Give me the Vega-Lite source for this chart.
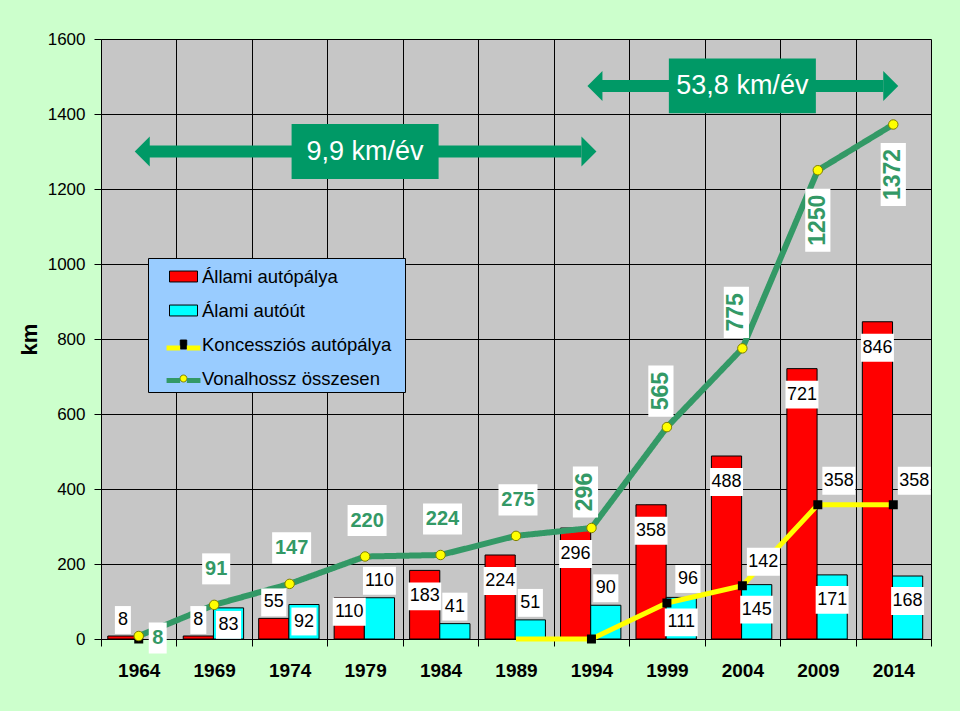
{
  "$schema": "https://vega.github.io/schema/vega-lite/v6.json",
  "width": 830,
  "height": 600,
  "autosize": {"type": "none"},
  "padding": {"left": 101, "top": 39, "right": 29, "bottom": 72},
  "background": "#ccffcc",
  "config": {
    "view": {"fill": "#c6c6c6", "stroke": null},
    "font": "Liberation Sans"
  },
  "datasets": {
    "bars": [
      {"year": 1964, "series": "Állami autópálya", "km": 8},
      {"year": 1969, "series": "Állami autópálya", "km": 8},
      {"year": 1974, "series": "Állami autópálya", "km": 55},
      {"year": 1979, "series": "Állami autópálya", "km": 110},
      {"year": 1984, "series": "Állami autópálya", "km": 183},
      {"year": 1989, "series": "Állami autópálya", "km": 224},
      {"year": 1994, "series": "Állami autópálya", "km": 296},
      {"year": 1999, "series": "Állami autópálya", "km": 358},
      {"year": 2004, "series": "Állami autópálya", "km": 488},
      {"year": 2009, "series": "Állami autópálya", "km": 721},
      {"year": 2014, "series": "Állami autópálya", "km": 846},
      {"year": 1969, "series": "Álami autóút", "km": 83},
      {"year": 1974, "series": "Álami autóút", "km": 92},
      {"year": 1979, "series": "Álami autóút", "km": 110},
      {"year": 1984, "series": "Álami autóút", "km": 41},
      {"year": 1989, "series": "Álami autóút", "km": 51},
      {"year": 1994, "series": "Álami autóút", "km": 90},
      {"year": 1999, "series": "Álami autóút", "km": 111},
      {"year": 2004, "series": "Álami autóút", "km": 145},
      {"year": 2009, "series": "Álami autóút", "km": 171},
      {"year": 2014, "series": "Álami autóút", "km": 168}
    ],
    "lines": [
      {"year": 1964, "Koncessziós autópálya": 0, "Vonalhossz összesen": 8},
      {"year": 1969, "Koncessziós autópálya": null, "Vonalhossz összesen": 91},
      {"year": 1974, "Koncessziós autópálya": null, "Vonalhossz összesen": 147},
      {"year": 1979, "Koncessziós autópálya": null, "Vonalhossz összesen": 220},
      {"year": 1984, "Koncessziós autópálya": null, "Vonalhossz összesen": 224},
      {"year": 1989, "Koncessziós autópálya": 0, "Vonalhossz összesen": 275},
      {"year": 1994, "Koncessziós autópálya": 0, "Vonalhossz összesen": 296},
      {"year": 1999, "Koncessziós autópálya": 96, "Vonalhossz összesen": 565},
      {"year": 2004, "Koncessziós autópálya": 142, "Vonalhossz összesen": 775},
      {"year": 2009, "Koncessziós autópálya": 358, "Vonalhossz összesen": 1250},
      {"year": 2014, "Koncessziós autópálya": 358, "Vonalhossz összesen": 1372}
    ],
    "arrows": [
      {"from": 1964, "to": 1994, "mid": 1979, "km": 1300, "rate": "9,9 km/év"},
      {"from": 1994, "to": 2014, "mid": 2004, "km": 1475, "rate": "53,8 km/év"}
    ]
  },
  "layer": [
    {
      "data": {"name": "bars"},
      "mark": {"type": "bar", "stroke": "#000000", "strokeWidth": 1},
      "encoding": {
        "x": {
          "field": "year", "type": "ordinal", "title": null,
          "scale": {"paddingInner": 0, "paddingOuter": 0},
          "axis": {
            "title": null, "tickBand": "extent", "grid": true, "gridColor": "#000000", "gridWidth": 1, "gridOpacity": 1,
            "domainColor": "#000000", "domainWidth": 1, "tickColor": "#000000", "tickSize": 7, "tickWidth": 1,
            "labelFontSize": 19, "labelFontWeight": "bold", "labelColor": "#000000", "labelPadding": 15, "labelAngle": 0
          }
        },
        "xOffset": {
          "field": "series", "type": "nominal",
          "scale": {"domain": ["Állami autópálya", "Álami autóút"], "paddingInner": 0, "paddingOuter": 0.25, "align": 0.45}
        },
        "y": {
          "field": "km", "type": "quantitative", "title": "km",
          "scale": {"domain": [0, 1600], "nice": false},
          "axis": {
            "title": "km", "titleFontSize": 22, "titleFontWeight": "bold", "titleColor": "#000000", "titlePadding": 6,
            "values": [0, 200, 400, 600, 800, 1000, 1200, 1400, 1600], "format": "d",
            "grid": true, "gridColor": "#000000", "gridWidth": 1, "gridOpacity": 1,
            "domainColor": "#000000", "tickColor": "#000000", "tickSize": 7,
            "labelFontSize": 17, "labelColor": "#000000", "labelPadding": 9
          }
        },
        "fill": {
          "field": "series", "type": "nominal",
          "scale": {
            "domain": ["Állami autópálya", "Álami autóút", "Koncessziós autópálya", "Vonalhossz összesen"],
            "range": ["#ff0000", "#00ffff", "#000000", "#ffff00"]
          },
          "legend": {"orient": "none", "legendX": 47, "legendY": 219, "title": " ", "titleOrient": "right", "titlePadding": 10, "titleFontSize": 1, "fillColor": "#99ccff", "strokeColor": "#000000", "padding": 4, "labelFontSize": 18.5, "labelColor": "#000000", "labelLimit": 400, "labelOffset": 4, "symbolSize": 784, "symbolOffset": 17, "rowPadding": 10, "symbolOpacity": 1, "symbolStrokeWidth": 1}
        }
      }
    },
    {
      "data": {"name": "lines"},
      "transform": [
        {"fold": ["Koncessziós autópálya", "Vonalhossz összesen"], "as": ["line", "value"]},
        {"filter": "datum.value != null"}
      ],
      "mark": {"type": "point", "filled": true, "opacity": 0},
      "encoding": {
        "x": {"field": "year", "type": "ordinal", "title": null},
        "y": {"field": "value", "type": "quantitative", "title": "km"},
        "shape": {
          "field": "line", "type": "nominal",
          "scale": {
            "domain": ["Állami autópálya", "Álami autóút", "Koncessziós autópálya", "Vonalhossz összesen"],
            "range": ["M-1,-0.39H1V0.39H-1Z", "M-1,-0.39H1V0.39H-1Z", "M-0.23,-0.32H0.23V0.32H-0.23Z", "M-0.25,0A0.25,0.25 0 1,1 0.25,0A0.25,0.25 0 1,1 -0.25,0Z"]
          },
          "legend": {"orient": "none", "legendX": 47, "legendY": 219, "title": " ", "titleOrient": "right", "titlePadding": 10, "titleFontSize": 1, "fillColor": "#99ccff", "strokeColor": "#000000", "padding": 4, "labelFontSize": 18.5, "labelColor": "#000000", "labelLimit": 400, "labelOffset": 4, "symbolSize": 784, "symbolOffset": 17, "rowPadding": 10, "symbolOpacity": 1, "symbolStrokeWidth": 1}
        },
        "stroke": {
          "field": "line", "type": "nominal",
          "scale": {
            "domain": ["Állami autópálya", "Álami autóút", "Koncessziós autópálya", "Vonalhossz összesen"],
            "range": ["#000000", "#000000", "#000000", "#808000"]
          },
          "legend": {"orient": "none", "legendX": 47, "legendY": 219, "title": " ", "titleOrient": "right", "titlePadding": 10, "titleFontSize": 1, "fillColor": "#99ccff", "strokeColor": "#000000", "padding": 4, "labelFontSize": 18.5, "labelColor": "#000000", "labelLimit": 400, "labelOffset": 4, "symbolSize": 784, "symbolOffset": 17, "rowPadding": 10, "symbolOpacity": 1, "symbolStrokeWidth": 1}
        }
      }
    },
    {
      "data": {"name": "arrows"},
      "layer": [
        {
          "mark": {"type": "rule", "color": "#009966", "strokeWidth": 12, "xOffset": 10, "x2Offset": -10},
          "encoding": {
            "x": {"field": "from", "type": "ordinal", "title": null},
            "x2": {"field": "to"},
            "y": {"field": "km", "type": "quantitative", "title": "km"}
          }
        },
        {
          "mark": {"type": "point", "shape": "M0,0L1,-1L1,1Z", "filled": true, "fill": "#009966", "opacity": 1, "strokeWidth": 0, "size": 900, "xOffset": -4},
          "encoding": {
            "x": {"field": "from", "type": "ordinal", "title": null},
            "y": {"field": "km", "type": "quantitative", "title": "km"}
          }
        },
        {
          "mark": {"type": "point", "shape": "M0,0L-1,-1L-1,1Z", "filled": true, "fill": "#009966", "opacity": 1, "strokeWidth": 0, "size": 900, "xOffset": 5},
          "encoding": {
            "x": {"field": "to", "type": "ordinal", "title": null},
            "y": {"field": "km", "type": "quantitative", "title": "km"}
          }
        },
        {
          "mark": {"type": "point", "shape": "M-1,-0.374H1V0.374H-1Z", "filled": true, "fill": "#009966", "opacity": 1, "strokeWidth": 0, "size": 21609},
          "encoding": {
            "x": {"field": "mid", "type": "ordinal", "title": null},
            "y": {"field": "km", "type": "quantitative", "title": "km"}
          }
        },
        {
          "mark": {"type": "text", "color": "#ffffff", "fontSize": 27, "align": "center", "baseline": "middle"},
          "encoding": {
            "x": {"field": "mid", "type": "ordinal", "title": null},
            "y": {"field": "km", "type": "quantitative", "title": "km"},
            "text": {"field": "rate", "type": "nominal"}
          }
        }
      ]
    },
    {
      "data": {"name": "lines"},
      "transform": [
        {"fold": ["Koncessziós autópálya"], "as": ["line", "value"]},
        {"filter": "datum.year >= 1989"}
      ],
      "mark": {"type": "line", "strokeWidth": 5},
      "encoding": {
        "x": {"field": "year", "type": "ordinal", "title": null},
        "y": {"field": "value", "type": "quantitative", "title": "km"},
        "color": {
          "field": "line", "type": "nominal",
          "scale": {"domain": ["Koncessziós autópálya"], "range": ["#ffff00"]},
          "legend": {"orient": "none", "legendX": 45, "legendY": 288.5, "title": null, "padding": 4, "labelFontSize": 1, "labelExpr": "''", "symbolSize": 784, "symbolOffset": 17, "symbolOpacity": 1, "symbolType": "M-1.21,0H-0.24M0.24,0H1.21M0,-1L0,-1M0,1L0,1", "symbolStrokeWidth": 5, "symbolFillColor": "transparent"}
        }
      }
    },
    {
      "data": {"name": "lines"},
      "transform": [
        {"fold": ["Vonalhossz összesen"], "as": ["line", "value"]}
      ],
      "mark": {"type": "line", "color": "#339966", "strokeWidth": 6},
      "encoding": {
        "x": {"field": "year", "type": "ordinal", "title": null},
        "y": {"field": "value", "type": "quantitative", "title": "km"},
        "strokeDash": {
          "field": "line", "type": "nominal",
          "scale": {"domain": ["Vonalhossz összesen"], "range": [[1, 0]]},
          "legend": {"orient": "none", "legendX": 45, "legendY": 321, "title": null, "padding": 4, "labelFontSize": 1, "labelExpr": "''", "symbolSize": 784, "symbolOffset": 17, "symbolOpacity": 1, "symbolType": "M-1.21,0H-0.24M0.24,0H1.21M0,-1L0,-1M0,1L0,1", "symbolStrokeWidth": 5, "symbolStrokeColor": "#339966", "symbolFillColor": "transparent"}
        }
      }
    },
    {
      "data": {"name": "lines"},
      "transform": [{"filter": "datum['Koncessziós autópálya'] != null && datum.year != 1989"}],
      "mark": {"type": "point", "shape": "square", "filled": true, "color": "#000000", "size": 81, "opacity": 1},
      "encoding": {
        "x": {"field": "year", "type": "ordinal", "title": null},
        "y": {"field": "Koncessziós autópálya", "type": "quantitative", "title": "km"}
      }
    },
    {
      "data": {"name": "lines"},
      "mark": {"type": "point", "shape": "circle", "filled": true, "fill": "#ffff00", "stroke": "#808000", "strokeWidth": 1, "size": 90, "opacity": 1},
      "encoding": {
        "x": {"field": "year", "type": "ordinal", "title": null},
        "y": {"field": "Vonalhossz összesen", "type": "quantitative", "title": "km"}
      }
    },
    {
      "data": {"name": "bars"},
      "transform": [{"filter": "datum.series === 'Állami autópálya' && datum.year <= 1974"}],
      "encoding": {
        "x": {"field": "year", "type": "ordinal", "title": null},
        "xOffset": {"field": "series", "type": "nominal"},
        "y": {"field": "km", "type": "quantitative", "title": "km"}
      },
      "layer": [
        {"mark": {"type": "point", "filled": true, "fill": "#ffffff", "opacity": 1, "strokeWidth": 0, "size": 1156, "yOffset": -16},
         "encoding": {"shape": {"condition": [{"test": "datum.km < 10", "value": "M-0.47,-0.82H0.47V0.82H-0.47Z"}, {"test": "datum.km < 100", "value": "M-0.74,-0.82H0.74V0.82H-0.74Z"}], "value": "M-0.97,-0.82H0.97V0.82H-0.97Z"}}},
        {"mark": {"type": "text", "yOffset": -16, "fontSize": 18, "color": "#000000", "align": "center", "baseline": "middle"},
         "encoding": {"text": {"field": "km", "type": "quantitative"}}}
      ]
    },
    {
      "data": {"name": "bars"},
      "transform": [{"filter": "datum.series === 'Állami autópálya' && datum.year === 1979"}],
      "encoding": {
        "x": {"field": "year", "type": "ordinal", "title": null},
        "xOffset": {"field": "series", "type": "nominal"},
        "y": {"field": "km", "type": "quantitative", "title": "km"}
      },
      "layer": [
        {"mark": {"type": "point", "shape": "M-0.97,-0.82H0.97V0.82H-0.97Z", "filled": true, "fill": "#ffffff", "opacity": 1, "strokeWidth": 0, "size": 1156, "yOffset": 14}},
        {"mark": {"type": "text", "yOffset": 14, "fontSize": 18, "color": "#000000", "align": "center", "baseline": "middle"},
         "encoding": {"text": {"field": "km", "type": "quantitative"}}}
      ]
    },
    {
      "data": {"name": "bars"},
      "transform": [{"filter": "datum.series === 'Állami autópálya' && datum.year >= 1984"}],
      "encoding": {
        "x": {"field": "year", "type": "ordinal", "title": null},
        "xOffset": {"field": "series", "type": "nominal"},
        "y": {"field": "km", "type": "quantitative", "title": "km"}
      },
      "layer": [
        {"mark": {"type": "point", "shape": "M-0.97,-0.82H0.97V0.82H-0.97Z", "filled": true, "fill": "#ffffff", "opacity": 1, "strokeWidth": 0, "size": 1156, "yOffset": 26}},
        {"mark": {"type": "text", "yOffset": 26, "fontSize": 18, "color": "#000000", "align": "center", "baseline": "middle"},
         "encoding": {"text": {"field": "km", "type": "quantitative"}}}
      ]
    },
    {
      "data": {"name": "bars"},
      "transform": [{"filter": "datum.series === 'Álami autóút' && datum.year <= 1974"}],
      "encoding": {
        "x": {"field": "year", "type": "ordinal", "title": null},
        "xOffset": {"field": "series", "type": "nominal"},
        "y": {"field": "km", "type": "quantitative", "title": "km"}
      },
      "layer": [
        {"mark": {"type": "point", "shape": "M-0.74,-0.82H0.74V0.82H-0.74Z", "filled": true, "fill": "#ffffff", "opacity": 1, "strokeWidth": 0, "size": 1156, "yOffset": 17}},
        {"mark": {"type": "text", "yOffset": 17, "fontSize": 18, "color": "#000000", "align": "center", "baseline": "middle"},
         "encoding": {"text": {"field": "km", "type": "quantitative"}}}
      ]
    },
    {
      "data": {"name": "bars"},
      "transform": [{"filter": "datum.series === 'Álami autóút' && datum.year >= 1999"}],
      "encoding": {
        "x": {"field": "year", "type": "ordinal", "title": null},
        "xOffset": {"field": "series", "type": "nominal"},
        "y": {"field": "km", "type": "quantitative", "title": "km"}
      },
      "layer": [
        {"mark": {"type": "point", "shape": "M-0.97,-0.82H0.97V0.82H-0.97Z", "filled": true, "fill": "#ffffff", "opacity": 1, "strokeWidth": 0, "size": 1156, "yOffset": 25}},
        {"mark": {"type": "text", "yOffset": 25, "fontSize": 18, "color": "#000000", "align": "center", "baseline": "middle"},
         "encoding": {"text": {"field": "km", "type": "quantitative"}}}
      ]
    },
    {
      "data": {"name": "bars"},
      "transform": [{"filter": "datum.series === 'Álami autóút' && datum.year >= 1979 && datum.year <= 1994"}],
      "encoding": {
        "x": {"field": "year", "type": "ordinal", "title": null},
        "xOffset": {"field": "series", "type": "nominal"},
        "y": {"field": "km", "type": "quantitative", "title": "km"}
      },
      "layer": [
        {"mark": {"type": "point", "filled": true, "fill": "#ffffff", "opacity": 1, "strokeWidth": 0, "size": 1156, "yOffset": -17},
         "encoding": {"shape": {"condition": [{"test": "datum.km < 100", "value": "M-0.74,-0.82H0.74V0.82H-0.74Z"}], "value": "M-0.97,-0.82H0.97V0.82H-0.97Z"}}},
        {"mark": {"type": "text", "yOffset": -17, "fontSize": 18, "color": "#000000", "align": "center", "baseline": "middle"},
         "encoding": {"text": {"field": "km", "type": "quantitative"}}}
      ]
    },
    {
      "data": {"name": "lines"},
      "transform": [{"filter": "datum['Koncessziós autópálya'] > 0"}],
      "encoding": {
        "x": {"field": "year", "type": "ordinal", "title": null},
        "y": {"field": "Koncessziós autópálya", "type": "quantitative", "title": "km"}
      },
      "layer": [
        {"mark": {"type": "point", "filled": true, "fill": "#ffffff", "opacity": 1, "strokeWidth": 0, "size": 1156, "xOffset": 21, "yOffset": -24},
         "encoding": {"shape": {"condition": [{"test": "datum['Koncessziós autópálya'] < 100", "value": "M-0.74,-0.82H0.74V0.82H-0.74Z"}], "value": "M-0.97,-0.82H0.97V0.82H-0.97Z"}}},
        {"mark": {"type": "text", "xOffset": 21, "yOffset": -24, "fontSize": 18, "color": "#000000", "align": "center", "baseline": "middle"},
         "encoding": {"text": {"field": "Koncessziós autópálya", "type": "quantitative"}}}
      ]
    },
    {
      "data": {"name": "lines"},
      "transform": [{"filter": "datum.year === 1964"}],
      "encoding": {
        "x": {"field": "year", "type": "ordinal", "title": null},
        "y": {"field": "Vonalhossz összesen", "type": "quantitative", "title": "km"}
      },
      "layer": [
        {"mark": {"type": "point", "shape": "M-0.46,-0.795H0.46V0.795H-0.46Z", "filled": true, "fill": "#ffffff", "opacity": 1, "strokeWidth": 0, "size": 1521, "xOffset": 19, "yOffset": 2}},
        {"mark": {"type": "text", "xOffset": 19, "yOffset": 2, "fontSize": 20, "fontWeight": "bold", "color": "#339966", "align": "center", "baseline": "middle"},
         "encoding": {"text": {"field": "Vonalhossz összesen", "type": "quantitative"}}}
      ]
    },
    {
      "data": {"name": "lines"},
      "transform": [{"filter": "datum.year >= 1969 && datum.year <= 1989"}],
      "encoding": {
        "x": {"field": "year", "type": "ordinal", "title": null},
        "y": {"field": "Vonalhossz összesen", "type": "quantitative", "title": "km"}
      },
      "layer": [
        {"mark": {"type": "point", "filled": true, "fill": "#ffffff", "opacity": 1, "strokeWidth": 0, "size": 1521, "xOffset": 2, "yOffset": -36},
         "encoding": {"shape": {"condition": [{"test": "datum['Vonalhossz összesen'] < 100", "value": "M-0.72,-0.795H0.72V0.795H-0.72Z"}], "value": "M-1,-0.795H1V0.795H-1Z"}}},
        {"mark": {"type": "text", "xOffset": 2, "yOffset": -36, "fontSize": 20, "fontWeight": "bold", "color": "#339966", "align": "center", "baseline": "middle"},
         "encoding": {"text": {"field": "Vonalhossz összesen", "type": "quantitative"}}}
      ]
    },
    {
      "data": {"name": "lines"},
      "transform": [{"filter": "datum.year >= 1994 && datum.year <= 2004"}],
      "encoding": {
        "x": {"field": "year", "type": "ordinal", "title": null},
        "y": {"field": "Vonalhossz összesen", "type": "quantitative", "title": "km"}
      },
      "layer": [
        {"mark": {"type": "point", "shape": "M-0.4,-0.81H0.4V0.81H-0.4Z", "filled": true, "fill": "#ffffff", "opacity": 1, "strokeWidth": 0, "size": 3969, "xOffset": -6, "yOffset": -36}},
        {"mark": {"type": "text", "xOffset": -6, "yOffset": -36, "angle": 270, "fontSize": 23, "fontWeight": "bold", "color": "#339966", "align": "center", "baseline": "middle"},
         "encoding": {"text": {"field": "Vonalhossz összesen", "type": "quantitative"}}}
      ]
    },
    {
      "data": {"name": "lines"},
      "transform": [{"filter": "datum.year >= 2009"}],
      "encoding": {
        "x": {"field": "year", "type": "ordinal", "title": null},
        "y": {"field": "Vonalhossz összesen", "type": "quantitative", "title": "km"}
      },
      "layer": [
        {"mark": {"type": "point", "shape": "M-0.4,-1H0.4V1H-0.4Z", "filled": true, "fill": "#ffffff", "opacity": 1, "strokeWidth": 0, "size": 3969, "xOffset": 0, "yOffset": 50}},
        {"mark": {"type": "text", "xOffset": 0, "yOffset": 50, "angle": 270, "fontSize": 23, "fontWeight": "bold", "color": "#339966", "align": "center", "baseline": "middle"},
         "encoding": {"text": {"field": "Vonalhossz összesen", "type": "quantitative"}}}
      ]
    }
  ]
}
